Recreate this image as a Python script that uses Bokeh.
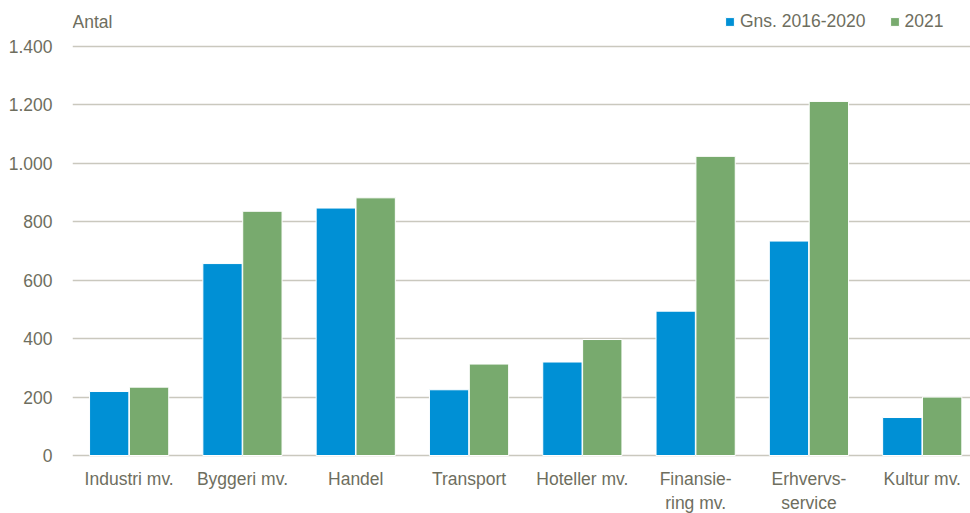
from bokeh.plotting import figure
from bokeh.models import ColumnDataSource, Range1d, FixedTicker, Legend, LegendItem, Label
from bokeh.core.properties import value
from bokeh.transform import dodge
from bokeh.embed import file_html
from bokeh.resources import INLINE

categories = ["Industri mv.", "Byggeri mv.", "Handel", "Transport", "Hoteller mv.",
              "Finansie-\nring mv.", "Erhvervs-\nservice", "Kultur mv."]
gns_2016_2020 = [219, 657, 847, 225, 320, 494, 734, 130]
y2021 = [234, 836, 882, 313, 397, 1024, 1212, 200]
y_ticks = [0, 200, 400, 600, 800, 1000, 1200, 1400]
y_tick_labels = ["0", "200", "400", "600", "800", "1.000", "1.200", "1.400"]

TEXT = "#6E6E5E"
GRID = "#CAC8BE"
BLUE = "#0090D5"
GREEN = "#78AA6E"
FONT = "Liberation Sans"
FS = "17.5px"

xpos = [i + 0.5 for i in range(len(categories))]
src = ColumnDataSource(dict(x=xpos, a=gns_2016_2020, b=y2021, cat=categories,
                            base=[0] * len(categories)))

p = figure(width=970, height=513, output_backend="svg", toolbar_location=None,
           x_range=Range1d(0, 7.926), y_range=Range1d(-198.5, 1550.6),
           min_border_left=72, min_border_right=0, min_border_top=2, min_border_bottom=0)
p.outline_line_color = None
p.background_fill_color = "white"
p.border_fill_color = "white"

r1 = p.vbar(x=dodge("x", -0.176), top="a", width=0.347, source=src,
            fill_color=BLUE, line_color="white", line_width=1)
r2 = p.vbar(x=dodge("x", 0.176), top="b", width=0.347, source=src,
            fill_color=GREEN, line_color="white", line_width=1)

# category labels under the zero line
p.text(x="x", y="base", text="cat", source=src, y_offset=13,
       text_align="center", text_baseline="top", text_line_height=1.2,
       text_font=value(FONT), text_font_size=value(FS), text_color=TEXT)

p.xaxis.visible = False
p.xgrid.grid_line_color = None
p.ygrid.grid_line_color = GRID
p.ygrid.grid_line_width = 1.5

p.yaxis.ticker = FixedTicker(ticks=y_ticks)
p.yaxis.major_label_overrides = {t: l for t, l in zip(y_ticks, y_tick_labels)}
ax = p.yaxis[0]
ax.axis_line_color = None
ax.major_tick_line_color = None
ax.minor_tick_line_color = None
ax.major_label_text_color = TEXT
ax.major_label_text_font = FONT
ax.major_label_text_font_size = FS
ax.major_label_standoff = 14

legend = Legend(items=[LegendItem(label="Gns. 2016-2020", renderers=[r1]),
                       LegendItem(label="2021", renderers=[r2])],
                orientation="horizontal", location=(652, 481),
                glyph_width=11, glyph_height=11, label_standoff=5, spacing=23,
                padding=0, margin=0, border_line_color=None, background_fill_alpha=0,
                label_text_font=FONT, label_text_font_size=FS, label_text_color=TEXT,
                label_height=20)
p.add_layout(legend, "center")

p.add_layout(Label(x=0, y=492, x_units="screen", y_units="screen", text="Antal",
                   text_font=FONT, text_font_size=FS, text_color=TEXT,
                   text_baseline="middle", text_align="left"))

open("out.html", "w").write(file_html(p, INLINE))
